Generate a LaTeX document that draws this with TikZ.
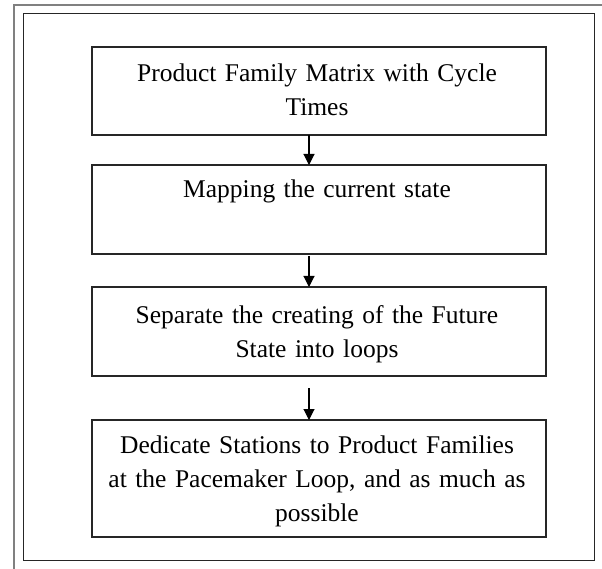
\documentclass[tikz,border=0pt]{standalone}
\usepackage{fontspec}
\setmainfont{Liberation Serif}
\usetikzlibrary{arrows.meta}
\begin{document}
\begin{tikzpicture}[x=1pt,y=-1pt,
  stepbox/.style={draw=black!85,line width=1.3pt,minimum width=454pt,inner sep=0pt,outer sep=0pt},
  boxtext/.style={anchor=base,text width=450pt,align=center,inner sep=0pt,
    font=\fontsize{25.5}{34}\selectfont},
  flow/.style={line width=1.1pt,-{Triangle[width=11pt,length=11pt]}}]
\useasboundingbox (0,0) rectangle (602,569);
\fill[white] (0,0) rectangle (602,569);
% page edges
\draw[black!50,line width=1.5pt] (14,569) -- (14,5) -- (602,5);
% outer frame
\node[draw=black!85,line width=1.3pt,minimum width=571pt,minimum height=547pt,inner sep=0pt,anchor=north west] (frame) at (23,13) {};
% boxes
\node[stepbox,minimum height=88pt,anchor=north west] (b1) at (92,47) {};
\node[stepbox,minimum height=89pt,anchor=north west] (b2) at (92,165) {};
\node[stepbox,minimum height=89pt,anchor=north west] (b3) at (92,287) {};
\node[stepbox,minimum height=117pt,anchor=north west] (b4) at (92,420) {};
% texts
\node[boxtext] (t1) at ([xshift=-2pt,yshift=-35pt]b1.north) {Product Family Matrix with Cycle\\Times};
\node[boxtext] (t2) at ([xshift=-2pt,yshift=-33pt]b2.north) {Mapping the current state};
\node[boxtext] (t3) at ([xshift=-2pt,yshift=-36pt]b3.north) {Separate the creating of the Future\\State into loops};
\node[boxtext] (t4) at ([xshift=-2pt,yshift=-33pt]b4.north) {Dedicate Stations to Product Families\\at the Pacemaker Loop, and as much as\\possible};
% arrows
\draw[flow] ([xshift=-10pt]b1.south) -- ([xshift=-10pt]b2.north);
\draw[flow] ([xshift=-10pt,yshift=-2pt]b2.south) -- ([xshift=-10pt]b3.north);
\draw[flow] ([xshift=-10pt,yshift=-12pt]b3.south) -- ([xshift=-10pt]b4.north);
\end{tikzpicture}
\end{document}
